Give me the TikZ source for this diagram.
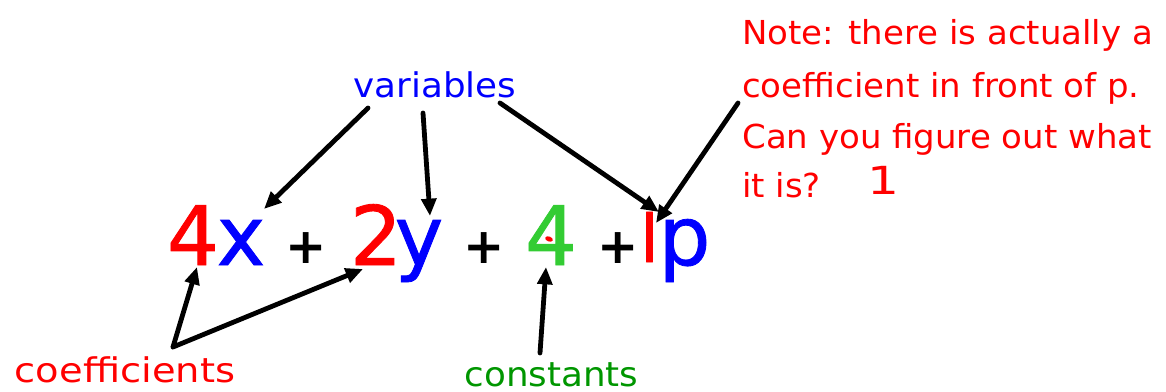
\documentclass[tikz,border=0pt]{standalone}
\usepackage{fontspec}
\setmainfont{DejaVu Sans}
\newfontfamily\eqfont[FakeBold=1]{DejaVu Sans}
\usetikzlibrary{arrows.meta}
\definecolor{myred}{RGB}{255,0,0}
\definecolor{myblue}{RGB}{0,0,255}
\definecolor{eqgreen}{RGB}{51,204,51}
\definecolor{txtgreen}{RGB}{0,150,0}
\newcommand{\hstretch}[2]{\scalebox{#1}[1]{#2}}
\begin{document}
\begin{tikzpicture}[x=0.75pt,y=-0.75pt,
  lbl/.style={inner sep=0pt, anchor=base, font=\fontsize{25.5}{30}\selectfont},
  notes/.style={inner sep=0pt, anchor=base west, text=myred, font=\fontsize{24.75}{30}\selectfont},
  eqterm/.style={inner sep=0pt, anchor=base, font=\fontsize{61.5}{70}\eqfont},
  plussign/.style={inner sep=0pt, anchor=base, font=\fontsize{37}{45}\bfseries\selectfont, text=black},
  arr/.style={line width=3.6pt, line cap=round, -{Triangle[length=13pt,width=11pt]}}]
\useasboundingbox (0,0) rectangle (1166,392);
% equation
\node[eqterm, text=myred] (c4) at (193,265) {4};
\node[eqterm, text=myblue] (vx) at (241,265) {x};
\node[plussign] (p1) at (306,263) {+};
\node[eqterm, text=myred] (c2) at (376,265) {2};
\node[eqterm, text=myblue] (vy) at (419,265) {y};
\node[plussign] (p2) at (484,263) {+};
\node[eqterm, text=eqgreen] (k4) at (551,265) {4};
\node[plussign] (p3) at (618,263) {+};
\node[eqterm, text=myred, font=\fontsize{49.5}{55}\eqfont] (c1) at (649.5,262) {l};
\node[eqterm, text=myblue] (vp) at (684.5,265) {p};
\fill[myred, rotate around={-20:(549,239)}] (549,239) ellipse [x radius=4, y radius=2.5];
% labels
\node[lbl, text=myblue] (var) at (435,98) {\hstretch{1.05}{variables}};
\node[lbl, text=myred] (coef) at (125,382) {\hstretch{1.13}{coefficients}};
\node[lbl, text=txtgreen] (cons) at (551.5,386) {\hstretch{1.05}{constants}};
\node[notes] (note1) at (742,45) {\hstretch{1.03}{Note: there is actually a}};
\node[notes] (note2) at (742,98) {\hstretch{1.03}{coefficient in front of p.}};
\node[notes] (note3) at (742,148) {\hstretch{1.03}{Can you figure out what}};
\node[notes] (note4) at (742,197) {\hstretch{1.03}{it is?}};
\node[inner sep=0pt, anchor=base, text=myred, font=\fontsize{29}{32}\selectfont] (one) at (883,195) {\hstretch{1.3}{1}};
% connector end points
\coordinate (va) at (368,108);
\coordinate (vb) at (423,113);
\coordinate (vc) at (500,103);
\coordinate (na) at (738,103);
\coordinate (xa) at (264,209);
\coordinate (ya) at (430,216);
\coordinate (pa) at (659,212);
\coordinate (la) at (656,223);
\coordinate (ca) at (173,347);
\coordinate (c4a) at (197,267);
\coordinate (c2a) at (363,269);
\coordinate (ka) at (540,353);
\coordinate (k4a) at (546,267);
% arrows
\draw[arr] (va) -- (xa);
\draw[arr] (vb) -- (ya);
\draw[arr] (vc) -- (pa);
\draw[arr] (na) -- (la);
\draw[arr] (ca) -- (c4a);
\draw[arr] (ca) -- (c2a);
\draw[arr] (ka) -- (k4a);
\end{tikzpicture}
\end{document}
